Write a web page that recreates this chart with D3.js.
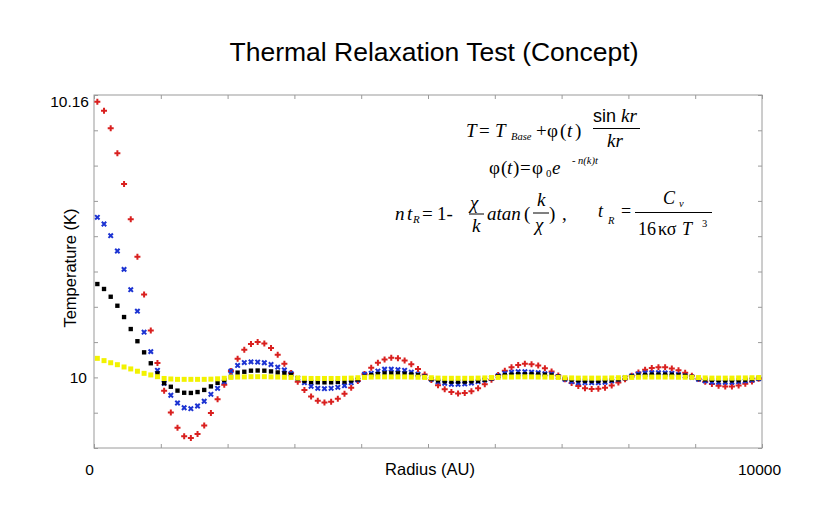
<!DOCTYPE html>
<html>
  <head>
    <meta charset="UTF-8" />
    <style>
      body {
        margin: 0;
        background: #fff;
      }
      .title {
        font-family: "Liberation Sans", Arial, sans-serif;
        font-size: 26.5px;
      }
      .axisLabel {
        font-family: "Liberation Sans", Arial, sans-serif;
        font-size: 16.5px;
      }
      .tick text {
        font-family: "Liberation Sans", Arial, sans-serif;
        font-size: 15.5px;
        fill: #000;
      }
      .tick line {
        stroke: #9a9a9a;
      }
      .eq {
        font-family: "Liberation Serif", "Times New Roman", serif;
        fill: #000;
      }
    </style>
  </head>
  <body>
    <svg></svg>
    <script src="https://d3js.org/d3.v7.min.js"></script>
    <script>
      // sample radii (AU)
      let radius = [
        50, 150, 250, 350, 450, 550, 650, 750, 850, 950,
        1050, 1150, 1250, 1350, 1450, 1550, 1650, 1750, 1850, 1950,
        2050, 2150, 2250, 2350, 2450, 2550, 2650, 2750, 2850, 2950,
        3050, 3150, 3250, 3350, 3450, 3550, 3650, 3750, 3850, 3950,
        4050, 4150, 4250, 4350, 4450, 4550, 4650, 4750, 4850, 4950,
        5050, 5150, 5250, 5350, 5450, 5550, 5650, 5750, 5850, 5950,
        6050, 6150, 6250, 6350, 6450, 6550, 6650, 6750, 6850, 6950,
        7050, 7150, 7250, 7350, 7450, 7550, 7650, 7750, 7850, 7950,
        8050, 8150, 8250, 8350, 8450, 8550, 8650, 8750, 8850, 8950,
        9050, 9150, 9250, 9350, 9450, 9550, 9650, 9750, 9850, 9950
      ];

      // temperature (K) per series
      let tempRed = [
        10.1562, 10.1511, 10.1412, 10.127, 10.1096, 10.0896, 10.0683, 10.0469, 10.0266, 10.0082,
        9.9924, 9.9801, 9.9715, 9.9667, 9.9657, 9.968, 9.9728, 9.9798, 9.9876, 9.9959,
        10.0036, 10.0105, 10.0156, 10.0189, 10.0201, 10.0192, 10.0166, 10.0128, 10.0078, 10.0025,
        9.9975, 9.9929, 9.9892, 9.9868, 9.9858, 9.9862, 9.9879, 9.9907, 9.9941, 9.998,
        10.0019, 10.0055, 10.0083, 10.0102, 10.0111, 10.0108, 10.0096, 10.0074, 10.0047, 10.0016,
        9.9985, 9.9956, 9.9933, 9.9917, 9.9909, 9.9911, 9.9921, 9.9939, 9.9961, 9.9987,
        10.0013, 10.0037, 10.0057, 10.007, 10.0077, 10.0075, 10.0067, 10.0052, 10.0033, 10.0011,
        9.9989, 9.9968, 9.9951, 9.9939, 9.9934, 9.9935, 9.9942, 9.9954, 9.9971, 9.999,
        10.001, 10.0028, 10.0043, 10.0053, 10.0058, 10.0058, 10.0051, 10.004, 10.0026, 10.0009,
        9.9991, 9.9975, 9.9962, 9.9952, 9.9948, 9.9948, 9.9954, 9.9964, 9.9977, 9.9992
      ];
      let tempBlue = [
        10.0907, 10.0869, 10.0803, 10.0716, 10.0612, 10.0497, 10.0375, 10.0256, 10.0146, 10.004,
        9.9967, 9.9899, 9.9855, 9.9828, 9.9823, 9.9838, 9.9865, 9.9904, 9.9938, 9.9976,
        10.0036, 10.0068, 10.0084, 10.0088, 10.0087, 10.0083, 10.0073, 10.0058, 10.0042, 10.0022,
        9.9995, 9.997, 9.995, 9.9938, 9.9936, 9.9938, 9.9944, 9.9953, 9.997, 9.9985,
        10.0018, 10.0023, 10.0036, 10.0046, 10.0046, 10.0044, 10.004, 10.0029, 10.0018, 10.0004,
        9.9989, 9.9976, 9.9967, 9.9961, 9.9961, 9.9963, 9.9968, 9.9976, 9.9985, 9.9995,
        10.001, 10.0023, 10.0029, 10.0032, 10.0032, 10.0029, 10.0027, 10.0021, 10.0018, 10.0004,
        9.9989, 9.9976, 9.997, 9.997, 9.997, 9.997, 9.9972, 9.998, 9.9989, 9.9998,
        10.0009, 10.002, 10.0025, 10.0027, 10.0027, 10.0025, 10.0023, 10.0017, 10.0008, 10.0001,
        9.9989, 9.998, 9.9974, 9.9972, 9.9972, 9.9972, 9.9976, 9.998, 9.9985, 9.9993
      ];
      let tempBlack = [
        10.0529, 10.0501, 10.0457, 10.0406, 10.0342, 10.0274, 10.0205, 10.0142, 10.008, 10.0023,
        9.9967, 9.9947, 9.9925, 9.9913, 9.9912, 9.9917, 9.9929, 9.9949, 9.9969, 9.9985,
        10.0004, 10.0027, 10.0032, 10.0038, 10.0039, 10.0038, 10.0034, 10.0028, 10.0023, 10.0014,
        9.9995, 9.998, 9.9974, 9.9972, 9.9972, 9.9972, 9.9974, 9.9976, 9.9982, 9.9989,
        10.0004, 10.0013, 10.0019, 10.0023, 10.0023, 10.0023, 10.0021, 10.0017, 10.0013, 10.0004,
        9.9991, 9.9983, 9.9978, 9.9976, 9.9976, 9.9976, 9.9978, 9.9981, 9.9987, 9.9995,
        10.0006, 10.0013, 10.0016, 10.0018, 10.0018, 10.0018, 10.0017, 10.0015, 10.0011, 10.0004,
        9.9994, 9.9987, 9.9983, 9.9981, 9.998, 9.998, 9.9982, 9.9985, 9.9989, 9.9996,
        10.0005, 10.0011, 10.0014, 10.0016, 10.0016, 10.0016, 10.0015, 10.0012, 10.0009, 10.0003,
        9.9995, 9.9989, 9.9986, 9.9984, 9.9983, 9.9983, 9.9984, 9.9987, 9.9991, 9.9996
      ];
      let tempYellow = [
        10.0108, 10.0095, 10.0083, 10.0072, 10.0059, 10.0048, 10.0035, 10.0023, 10.0014, 10.0004,
        9.9994, 9.9991, 9.9989, 9.9989, 9.9989, 9.9989, 9.9989, 9.999, 9.9992, 9.9995,
        10.0, 10.0002, 10.0003, 10.0004, 10.0004, 10.0004, 10.0003, 10.0002, 10.0001, 10.0,
        9.9997, 9.9995, 9.9994, 9.9994, 9.9994, 9.9994, 9.9994, 9.9995, 9.9996, 9.9998,
        10.0, 10.0002, 10.0003, 10.0003, 10.0003, 10.0003, 10.0003, 10.0002, 10.0001, 10.0,
        9.9998, 9.9996, 9.9995, 9.9995, 9.9995, 9.9995, 9.9995, 9.9996, 9.9997, 9.9999,
        10.0, 10.0002, 10.0002, 10.0003, 10.0003, 10.0003, 10.0002, 10.0002, 10.0001, 10.0,
        9.9998, 9.9997, 9.9996, 9.9996, 9.9996, 9.9996, 9.9996, 9.9997, 9.9998, 9.9999,
        10.0, 10.0001, 10.0002, 10.0002, 10.0002, 10.0002, 10.0002, 10.0001, 10.0001, 10.0,
        9.9999, 9.9997, 9.9996, 9.9996, 9.9996, 9.9996, 9.9997, 9.9997, 9.9998, 9.9999
      ];

      let xTicks = [0, 1000, 2000, 3000, 4000, 5000, 6000, 7000, 8000, 9000, 10000];
      let xTickLabels = [0, 10000];
      let yTicks = [9.96, 9.98, 10, 10.02, 10.04, 10.06, 10.08, 10.1, 10.12, 10.14, 10.16];
      let yTickLabels = [10, 10.16];

      let width = 831,
        height = 507;
      let plotLeft = 94,
        plotRight = 762,
        plotTop = 95,
        plotBottom = 448;

      let svg = d3.select("svg").attr("width", width).attr("height", height);

      let x = d3.scaleLinear().domain([0, 10000]).range([plotLeft, plotRight]);
      let y = d3.scaleLinear().domain([9.96, 10.16]).range([plotBottom, plotTop]);

      // frame
      svg
        .append("rect")
        .attr("x", plotLeft)
        .attr("y", plotTop)
        .attr("width", plotRight - plotLeft)
        .attr("height", plotBottom - plotTop)
        .attr("fill", "none")
        .attr("stroke", "#9a9a9a")
        .attr("stroke-width", 1);

      function noDomain(g) {
        g.select(".domain").remove();
      }

      svg
        .append("g")
        .attr("transform", "translate(0," + plotBottom + ")")
        .call(
          d3
            .axisBottom(x)
            .tickValues(xTicks)
            .tickSize(-4)
            .tickSizeOuter(0)
            .tickPadding(16)
            .tickFormat(function (d) {
              return xTickLabels.includes(d) ? d : "";
            })
        )
        .call(noDomain)
        .selectAll("text")
        .attr("dx", function (d) {
          return d == 0 ? -5 : -3;
        });

      svg
        .append("g")
        .attr("transform", "translate(0," + plotTop + ")")
        .call(d3.axisTop(x).tickValues(xTicks).tickSize(-4).tickFormat(""))
        .call(noDomain);

      svg
        .append("g")
        .attr("transform", "translate(" + plotLeft + ",0)")
        .call(
          d3
            .axisLeft(y)
            .tickValues(yTicks)
            .tickSize(-4)
            .tickPadding(5)
            .tickFormat(function (d) {
              return yTickLabels.includes(d) ? d : "";
            })
        )
        .call(noDomain)
        .selectAll("text")
        .attr("dy", function (d) {
          return d == 10.16 ? "0.75em" : "0.32em";
        })
        .attr("dx", function (d) {
          return d == 10 ? -2 : 0;
        });

      svg
        .append("g")
        .attr("transform", "translate(" + plotRight + ",0)")
        .call(d3.axisRight(y).tickValues(yTicks).tickSize(-4).tickFormat(""))
        .call(noDomain);

      // titles
      svg
        .append("text")
        .attr("class", "title")
        .attr("x", 434)
        .attr("y", 61)
        .attr("text-anchor", "middle")
        .text("Thermal Relaxation Test (Concept)");

      svg
        .append("text")
        .attr("class", "axisLabel")
        .attr("x", 430)
        .attr("y", 475)
        .attr("text-anchor", "middle")
        .text("Radius (AU)");

      svg
        .append("text")
        .attr("class", "axisLabel")
        .attr("transform", "translate(76,268) rotate(-90)")
        .attr("text-anchor", "middle")
        .text("Temperature (K)");

      // series, drawn in order
      let series = [
        { name: "red", values: tempRed, color: "#d9201f", shape: "plus" },
        { name: "blue", values: tempBlue, color: "#1c33d2", shape: "x" },
        { name: "black", values: tempBlack, color: "#000000", shape: "square" },
        { name: "yellow", values: tempYellow, color: "#f2f200", shape: "bigsquare" }
      ];

      let plus = d3.symbol().type(d3.symbolCross).size(20)();
      let square = d3.symbol().type(d3.symbolSquare).size(19)();
      let bigSquare = d3.symbol().type(d3.symbolSquare).size(25)();
      let xMark = "M-2.2,-2.2L2.2,2.2M-2.2,2.2L2.2,-2.2";

      series.forEach(function (s) {
        let g = svg.append("g").attr("class", "series-" + s.name);
        g.selectAll("path")
          .data(radius)
          .enter()
          .append("path")
          .attr("transform", function (d, i) {
            return "translate(" + x(d) + "," + y(s.values[i]) + ")";
          })
          .attr("d", function () {
            if (s.shape == "plus") return plus;
            if (s.shape == "x") return xMark;
            if (s.shape == "square") return square;
            return bigSquare;
          })
          .attr("fill", s.shape == "x" ? "none" : s.color)
          .attr("stroke", s.shape == "x" ? s.color : "none")
          .attr("stroke-width", 2);
      });

      // equations
      let eq = svg.append("g").attr("class", "eq");

      function put(txt, px, py, size, italic, family) {
        eq.append("text")
          .attr("x", px)
          .attr("y", py)
          .style("font-size", size + "px")
          .style("font-style", italic ? "italic" : "normal")
          .style("font-family", family || null)
          .text(txt);
      }
      function bar(x1, x2, py) {
        eq.append("line")
          .attr("x1", x1)
          .attr("x2", x2)
          .attr("y1", py)
          .attr("y2", py)
          .attr("stroke", "#000")
          .attr("stroke-width", 1);
      }

      let sans = '"Liberation Sans", Arial, sans-serif';

      // T = T_Base + phi(t) sin kr / kr
      put("T", 466, 137, 19, true);
      put("=", 479, 137, 19, false);
      put("T", 495, 137, 19, true);
      put("Base", 511, 140, 10.5, true);
      put("+", 536, 137, 19, false);
      put("φ", 547, 137, 19, false);
      put("(", 560, 137, 19, false);
      put("t", 567, 137, 19, true);
      put(")", 575, 137, 19, false);
      put("sin", 593, 121.5, 18, false, sans);
      put("kr", 621, 121.5, 19, true);
      bar(593, 640, 128.5);
      put("kr", 607, 146.5, 19, true);

      // phi(t) = phi0 e^{-n(k)t}
      put("φ", 489, 173.5, 19, false);
      put("(", 501, 173.5, 19, false);
      put("t", 507, 173.5, 19, true);
      put(")", 513, 173.5, 19, false);
      put("=", 520, 173.5, 19, false);
      put("φ", 532, 173.5, 19, false);
      put("0", 546, 177, 11, false);
      put("e", 552, 173.5, 19, true);
      put("- n(k)t", 572, 164, 10.5, true);

      // n t_R = 1 - chi/k atan(k/chi)
      put("n", 395, 219.5, 19, true);
      put("t", 407, 219.5, 19, true);
      put("R", 413, 223, 11, true);
      put("=", 422, 219.5, 19, false);
      put("1-", 437, 219.5, 19, false);
      put("χ", 470, 208.5, 19, true);
      bar(469, 484, 214);
      put("k", 472, 232, 19, true);
      put("atan", 487, 219.5, 19, true);
      put("(", 524, 219.5, 19, false);
      put("k", 537, 205.5, 19, true);
      bar(533, 549, 213);
      put("χ", 535, 230.5, 19, true);
      put(")", 549, 219.5, 19, false);
      put(",", 562, 219.5, 19, false);

      // t_R = C_v / (16 kappa sigma T^3)
      put("t", 598, 216.5, 18, true);
      put("R", 608, 223.5, 10.5, true);
      put("=", 621, 216.5, 18, false);
      bar(635, 712, 212.5);
      put("C", 663, 203.5, 18, true);
      put("v", 679, 207, 10.5, true);
      put("16", 638, 235, 18, false);
      put("κσ", 658, 235, 18, false);
      put("T", 682, 235, 18, true);
      put("3", 702, 227, 10.5, false);
    </script>
  </body>
</html>
